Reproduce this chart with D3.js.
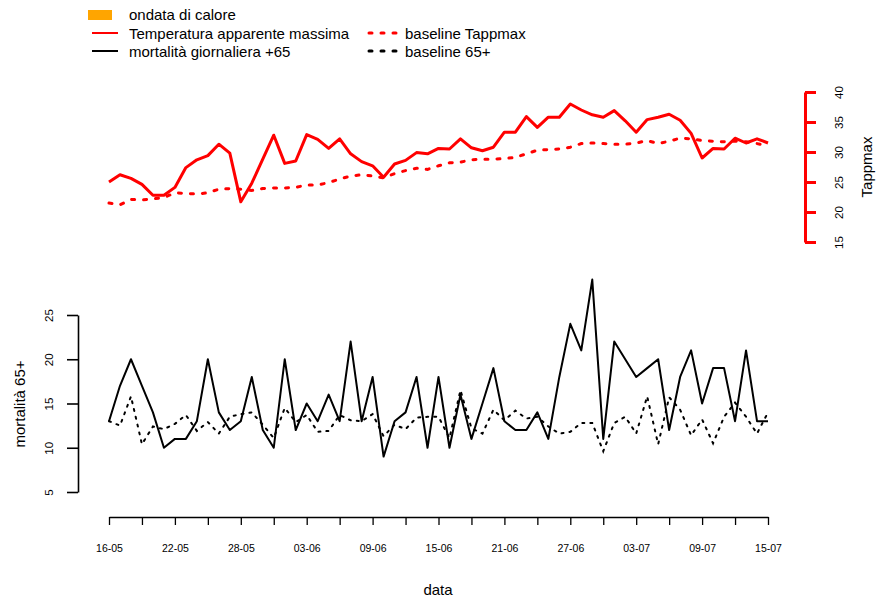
<!DOCTYPE html>
<html><head><meta charset="utf-8">
<script src="https://cdn.jsdelivr.net/npm/d3@7"></script>
<style>body{margin:0;background:#fff;} svg{font-family:"Liberation Sans",Arial,sans-serif;}</style>
</head><body><svg id="c" width="878" height="600"></svg>
<script>
const startDate = "2019-05-16";
const endDate = "2019-07-15";
const tappmax = [25.0,26.2,25.6,24.6,22.8,22.8,24.1,27.4,28.7,29.4,
  31.3,29.8,21.7,24.8,28.8,32.8,28.1,28.5,32.9,32.1,
  30.6,32.2,29.7,28.4,27.7,25.8,28.0,28.6,29.9,29.7,
  30.6,30.5,32.2,30.7,30.2,30.8,33.3,33.3,35.9,34.1,
  35.8,35.8,38.0,37.0,36.2,35.8,36.9,35.2,33.3,35.4,
  35.8,36.3,35.3,33.1,29.0,30.6,30.5,32.3,31.5,32.2,31.5];
const baselineTappmax = [21.5,21.2,22.1,22.0,22.2,22.4,23.2,23.1,23.0,23.2,
  23.8,23.9,23.8,23.6,23.9,24.0,24.0,24.1,24.5,24.5,
  24.9,25.5,26.0,26.2,26.0,25.7,26.4,26.9,27.3,27.1,
  27.7,28.2,28.3,28.7,28.8,28.8,28.9,29.1,29.7,30.3,
  30.4,30.5,30.8,31.4,31.5,31.4,31.3,31.3,31.5,31.9,
  31.4,31.8,32.3,32.2,31.9,31.8,31.7,31.8,31.7,31.4,31.0];
const mortalita = [13,17,20,17,14,10,11,11,13,20,
  14,12,13,18,12,10,20,12,15,13,
  16,13,22,13,18,9,13,14,18,10,
  18,10,16,11,15,19,13,12,12,14,
  11,18,24,21,29,11,22,20,18,19,
  20,12,18,21,15,19,19,13,21,13,13];
const baseline65 = [13.0,12.5,15.8,10.4,12.4,12.1,12.7,13.7,11.9,12.9,
  11.6,13.5,13.8,14.0,12.6,11.1,14.5,12.9,13.7,11.8,
  11.9,13.7,13.1,13.0,13.8,11.3,12.6,12.1,13.4,13.5,
  13.5,11.1,16.5,12.2,11.6,14.3,13.1,14.2,13.3,13.5,
  12.4,11.6,11.8,12.8,12.8,9.6,12.8,13.5,11.6,15.8,
  10.4,15.7,14.3,11.4,13.2,10.5,13.5,15.1,13.5,11.6,14.0];
const xTickLabels = ["16-05","22-05","28-05","03-06","09-06","15-06","21-06","27-06","03-07","09-07","15-07"];
const tempTicks = [15,20,25,30,35,40];
const mortTicks = [5,10,15,20,25];
const legendItems = ["ondata di calore","Temperatura apparente massima","baseline Tappmax","mortalità giornaliera +65","baseline 65+"];

const parse = d3.timeParse("%Y-%m-%d");
const t0 = parse(startDate), t1 = parse(endDate);
const dates = d3.timeDay.range(t0, d3.timeDay.offset(t1, 1));

const svg = d3.select("#c");
const x = d3.scaleTime().domain([t0, t1]).range([109, 768]);
const yT = d3.scaleLinear().domain([15, 40]).range([242, 92]);
const yM = d3.scaleLinear().domain([5, 25]).range([492, 315]);

// bottom axis
const minorTicks = dates.filter((d, i) => i % 3 === 0);
const xa = svg.append("g").attr("transform", "translate(0,517)")
  .call(d3.axisBottom(x).tickValues(minorTicks).tickSize(8).tickSizeOuter(0)
    .tickFormat((d, i) => i % 2 === 0 ? xTickLabels[i / 2] : ""));
xa.select(".domain").attr("stroke", "#000").attr("stroke-width", 1.3);
xa.selectAll(".tick line").attr("stroke", "#000").attr("stroke-width", 1.3);
xa.selectAll("text").attr("y", 35).attr("dy", null).attr("font-size", 10.5).attr("fill", "#000")
  .attr("font-family", "Liberation Sans, Arial, sans-serif");

// left axis
const ya = svg.append("g").attr("transform", "translate(78,0)")
  .call(d3.axisLeft(yM).tickValues(mortTicks).tickSize(11).tickSizeOuter(0));
ya.select(".domain").attr("stroke", "#000").attr("stroke-width", 1.6);
ya.selectAll(".tick line").attr("stroke", "#000").attr("stroke-width", 1.6);
ya.selectAll("text").attr("x", null).attr("dy", null).attr("text-anchor", "middle")
  .attr("dominant-baseline", "central").attr("transform", "translate(-29,0) rotate(-90)")
  .attr("font-size", 11.5).attr("fill", "#000").attr("font-family", "Liberation Sans, Arial, sans-serif");

// right axis
const yr = svg.append("g").attr("transform", "translate(805,0)")
  .call(d3.axisRight(yT).tickValues(tempTicks).tickSize(11).tickSizeOuter(0));
yr.select(".domain").attr("stroke", "red").attr("stroke-width", 3);
yr.selectAll(".tick line").attr("stroke", "red").attr("stroke-width", 3);
yr.selectAll("text").attr("x", null).attr("dy", null).attr("text-anchor", "middle")
  .attr("dominant-baseline", "central").attr("transform", "translate(34,0) rotate(-90)")
  .attr("font-size", 11.5).attr("fill", "#000").attr("font-family", "Liberation Sans, Arial, sans-serif");

// axis titles
svg.append("text").attr("x", 438).attr("y", 595).attr("text-anchor", "middle").attr("font-size", 15).text("data");
svg.append("text").attr("transform", "translate(25,404) rotate(-90)").attr("text-anchor", "middle").attr("font-size", 15).text("mortalità 65+");
svg.append("text").attr("transform", "translate(872,167) rotate(-90)").attr("text-anchor", "middle").attr("font-size", 15).text("Tappmax");

// lines
const lineT = d3.line().x((d, i) => x(dates[i])).y(d => yT(d));
const lineM = d3.line().x((d, i) => x(dates[i])).y(d => yM(d));

svg.append("path").datum(baselineTappmax).attr("d", lineT).attr("fill", "none").attr("stroke", "red")
  .attr("stroke-width", 3).attr("stroke-dasharray", "3,9").attr("stroke-linecap", "round");
svg.append("path").datum(tappmax).attr("d", lineT).attr("fill", "none").attr("stroke", "red")
  .attr("stroke-width", 3).attr("stroke-linejoin", "round");
svg.append("path").datum(baseline65).attr("d", lineM).attr("fill", "none").attr("stroke", "#000")
  .attr("stroke-width", 2).attr("stroke-dasharray", "2,6").attr("stroke-linecap", "round");
svg.append("path").datum(mortalita).attr("d", lineM).attr("fill", "none").attr("stroke", "#000")
  .attr("stroke-width", 2).attr("stroke-linejoin", "round");

// legend
const lg = svg.append("g").attr("font-size", 15);
lg.append("rect").attr("x", 88).attr("y", 10).attr("width", 24).attr("height", 10).attr("fill", "orange");
lg.append("text").attr("x", 129).attr("y", 20).text(legendItems[0]);
lg.append("line").attr("x1", 92).attr("x2", 118).attr("y1", 33).attr("y2", 33).attr("stroke", "red").attr("stroke-width", 2);
lg.append("text").attr("x", 129).attr("y", 38.5).text(legendItems[1]);
lg.append("line").attr("x1", 369).attr("x2", 399).attr("y1", 33).attr("y2", 33).attr("stroke", "red")
  .attr("stroke-width", 3).attr("stroke-dasharray", "3,9").attr("stroke-linecap", "round");
lg.append("text").attr("x", 405).attr("y", 38.5).text(legendItems[2]);
lg.append("line").attr("x1", 92).attr("x2", 118).attr("y1", 51).attr("y2", 51).attr("stroke", "#000").attr("stroke-width", 2);
lg.append("text").attr("x", 129).attr("y", 56.5).text(legendItems[3]);
lg.append("line").attr("x1", 369).attr("x2", 399).attr("y1", 51).attr("y2", 51).attr("stroke", "#000")
  .attr("stroke-width", 3).attr("stroke-dasharray", "3,9").attr("stroke-linecap", "round");
lg.append("text").attr("x", 405).attr("y", 56.5).text(legendItems[4]);
</script></body></html>
